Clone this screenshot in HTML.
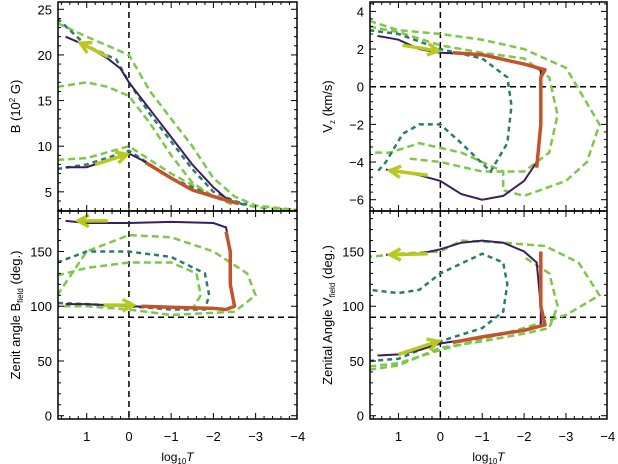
<!DOCTYPE html>
<html><head><meta charset="utf-8"><style>
html,body{margin:0;padding:0;background:#fff}
svg{display:block;font-family:"Liberation Sans",sans-serif}
</style></head><body>
<svg id="chart" width="618" height="464" viewBox="0 0 618 464" xmlns="http://www.w3.org/2000/svg"></svg>
<script>
// shared x-axis data
const xTicks=[1,0,-1,-2,-3,-4];
const xTickLabels=["1","0","\u22121","\u22122","\u22123","\u22124"];
// Panel B (top-left)
const bYTicks=[5,10,15,20,25];
const bSolid=[[[1.5,22],[1,21],[0.5,19.6],[0.2,18.5],[0,17],[-0.5,14],[-1,11],[-1.5,8],[-2,5.5],[-2.3,4.3],[-2.6,3.7]],
 [[1.5,7.7],[1,7.7],[0.5,8.5],[0,9.2],[-0.3,8.5],[-1,6.5],[-1.5,5.2],[-2,4.5],[-2.6,3.7]]];
const bRed=[[[-0.4,8.2],[-1,6.5],[-1.5,5.2],[-2,4.5],[-2.6,3.7]]];
const bTeal=[[[1.7,24],[1,21],[0.3,19.5],[0,17],[-0.5,13.5],[-1,10.5],[-1.5,7.5],[-2,5],[-2.5,4],[-2.8,3.6]],
 [[1.7,7.5],[1,8],[0,9.5],[-1,6.5],[-2,4.5],[-2.8,3.5]]];
const bGreen=[[[1.7,23.5],[1,22],[0,20],[-0.5,16],[-1,13],[-1.5,10],[-2,6.5],[-2.5,4.5],[-3,3.5],[-4,3]],
 [[1.7,16.5],[1,17],[0.5,16.5],[0,15.5],[-0.5,12.5],[-1,9],[-1.5,6],[-2,4.5],[-2.5,3.5]],
 [[1.7,8.5],[1,8.7],[0,10],[-1,7],[-2,4.5],[-3,3.3],[-4,3]]];
const bArrows=[[[0.5,19.8],[1.15,21.3]],[[0.8,8],[0.05,9.1]]];
// Panel Vz (top-right)
const vYTicks=[-6,-4,-2,0,2,4];
const vSolid=[[[1.5,2.7],[1,2.5],[0.5,2],[0,1.8],[-1,1.7],[-2,1.2],[-2.4,0.9],[-2.4,-2],[-2.3,-4],[-2,-5],[-1.5,-5.8],[-1,-6],[-0.5,-5.7],[0,-5],[0.5,-4.7],[1,-4.5],[1.3,-4.4]]];
const vRed=[[[-0.3,1.8],[-1,1.7],[-2,1.2],[-2.5,0.9],[-2.4,0.5],[-2.4,-2],[-2.3,-4.3]]];
const vTeal=[[[1.7,3],[1,2.8],[0,2],[-1,1.5],[-1.6,0.5],[-1.7,-1],[-1.6,-3],[-1.2,-4.5],[-0.5,-3],[0,-2],[0.5,-2],[0.9,-2.5],[1.3,-4],[1.5,-4.5]]];
const vGreen=[[[1.7,3.5],[1,3],[0,2.8],[-1,2.5],[-2,2],[-3,1],[-3.8,-2],[-3.5,-4],[-3,-5],[-2,-5.8],[-1.5,-5.5],[-1.5,-4.5],[-0.5,-3.5],[0.5,-3],[1.2,-3.5],[1.7,-3.5]],
 [[1.7,3.2],[1,2.9],[0,2.2],[-1,1.8],[-2,1.5],[-2.6,0.5],[-2.8,-1.5],[-2.6,-3.5],[-2,-4.5],[-1,-4.5],[0,-4],[0.8,-3.8]]];
const vArrows=[[[0.9,2.2],[0.05,1.9]],[[0.3,-4.7],[1.2,-4.45]]];
// Panel zenith B (bottom-left)
const aYTicks=[0,50,100,150];
const aSolid=[[[1.5,178],[1,176],[0,176],[-1,177],[-2,176],[-2.3,172],[-2.4,150],[-2.4,120],[-2.5,100],[-2.3,97],[-2,98],[-1,99],[0,100],[1,102],[1.5,102]]];
const aRed=[[[-2.3,168],[-2.4,150],[-2.4,120],[-2.5,100],[-2.3,97],[-2,98],[-1,99],[-0.3,100]]];
const aTeal=[[[1.7,140],[1,150],[0,150],[-1,145],[-1.8,130],[-1.9,110],[-1.8,97],[-1,97],[0,100],[1,102],[1.7,103]]];
const aGreen=[[[1.7,110],[1,150],[0,165],[-1,163],[-2,150],[-2.8,130],[-3,110],[-2.5,95],[-1,92],[0,97],[1,100],[1.7,100]],
 [[1.7,128],[1,135],[0,140],[-1,140],[-1.6,130],[-1.7,110],[-1.5,97]]];
const aArrows=[[[0.5,178],[1.2,178]],[[0.6,101],[-0.1,101]]];
// Panel zenith V (bottom-right)
const zYTicks=[0,50,100,150];
const zSolid=[[[1.5,55],[1,56],[0.5,60],[0,66],[-1,72],[-2,78],[-2.4,82],[-2.4,100],[-2.3,140],[-2,150],[-1.5,158],[-1,160],[-0.5,158],[0,152],[0.5,148],[1,147],[1.3,147]]];
const zRed=[[[-0.3,67],[-1,72],[-2,78],[-2.5,83],[-2.4,100],[-2.4,150]]];
const zTeal=[[[1.7,50],[1,52],[0,68],[-1,80],[-1.5,95],[-1.6,120],[-1.5,140],[-1,148],[0,130],[0.5,115],[1,112],[1.7,115]]];
const zGreen=[[[1.7,45],[1,48],[0,60],[-1,70],[-2,80],[-3,92],[-3.8,110],[-3.3,140],[-2.5,155],[-1.5,158],[-0.5,160],[0,150],[1,148],[1.7,145]],
 [[1.7,42],[1,46],[0,62],[-1,68],[-2,75],[-2.6,80],[-2.8,100],[-2.6,130],[-2,145]]];
const zArrows=[[[1,56],[0.05,68]],[[0.3,148],[1.2,147]]];

const NS="http://www.w3.org/2000/svg";
const svg=document.getElementById('chart');
function mk(tag,attrs,parent){const e=document.createElementNS(NS,tag);for(const k in attrs)e.setAttribute(k,attrs[k]);(parent||svg).appendChild(e);return e;}
let clipId=0;
function panel(o){
  const g=mk('g',{});
  
  
  const xs=v=>o.x0+(o.xmin-v)/(o.xmin-o.xmax)*(o.x1-o.x0);
  const ys=v=>o.y1-(v-o.ymin)/(o.ymax-o.ymin)*(o.y1-o.y0);
  const cid='c'+(clipId++);
  const cp=mk('clipPath',{id:cid},g);mk('rect',{x:o.x0,y:o.y0,width:o.x1-o.x0,height:o.y1-o.y0},cp);
  const dg=mk('g',{'clip-path':'url(#'+cid+')'},g);
  // reference dashed lines
  const vl=mk('line',{x1:xs(0),x2:xs(0),y1:o.y0,y2:o.y1,stroke:'#000','stroke-width':1.5,'stroke-dasharray':'6,4'},dg);
  
  
  if(o.href!==undefined){const hl=mk('line',{x1:o.x0,x2:o.x1,y1:ys(o.href),y2:ys(o.href),stroke:'#000','stroke-width':1.5,'stroke-dasharray':'6,4'},dg);
    
    }
  const path=(pts)=>pts.map((p,i)=>(i?'L':'M')+xs(p[0]).toFixed(1)+','+ys(p[1]).toFixed(1)).join('');
  o.green.forEach(s=>{const p=mk('path',{d:path(s),fill:'none',stroke:'#7dc84a','stroke-width':2.5,'stroke-dasharray':'7,4'},dg);
    
    });
  o.teal.forEach(s=>{const p=mk('path',{d:path(s),fill:'none',stroke:'#2a7d6c','stroke-width':2.5,'stroke-dasharray':'5,4'},dg);
    
    });
  o.solid.forEach(s=>{const p=mk('path',{d:path(s),fill:'none',stroke:'#3b1f5c','stroke-width':2},dg);
    
    });
  o.red.forEach(s=>{const p=mk('path',{d:path(s),fill:'none',stroke:'#c2542c','stroke-width':3.5,'stroke-linejoin':'round'},dg);
    
    });
  o.arrows.forEach(a=>{const X1=xs(a[0][0]),Y1=ys(a[0][1]),X2=xs(a[1][0]),Y2=ys(a[1][1]);
    const ang=Math.atan2(Y2-Y1,X2-X1),L=12,w=0.5;
    const ag=mk('g',{},dg);
    
    
    mk('line',{x1:X1,y1:Y1,x2:X2,y2:Y2,stroke:'#b9c81e','stroke-width':3.5},ag);
    mk('path',{d:`M${X2-L*Math.cos(ang-w)},${Y2-L*Math.sin(ang-w)}L${X2},${Y2}L${X2-L*Math.cos(ang+w)},${Y2-L*Math.sin(ang+w)}`,fill:'none',stroke:'#b9c81e','stroke-width':3.5},ag);});
  // frame
  mk('rect',{x:o.x0,y:o.y0,width:o.x1-o.x0,height:o.y1-o.y0,fill:'none',stroke:'#000','stroke-width':1.5},g);
  // x ticks
  for(let v=-4;v<=1.7;v+=0.2){const t=Math.round(v*10)/10;const X=xs(t);if(X<o.x0||X>o.x1)continue;
    const maj=Math.abs(t-Math.round(t))<1e-6;const len=maj?6:3;
    mk('line',{x1:X,x2:X,y1:o.y1,y2:o.y1-len,stroke:'#000'},g);mk('line',{x1:X,x2:X,y1:o.y0,y2:o.y0+len,stroke:'#000'},g);}
  if(o.xlabels){xTicks.forEach((t,i)=>{const tx=mk('text',{x:xs(t),y:o.y1+22,'font-size':13,'text-anchor':'middle'},g);tx.textContent=xTickLabels[i];
    
    });
    const xt=mk('text',{x:(o.x0+o.x1)/2,y:o.y1+42,'font-size':12,'text-anchor':'middle'},g);
    
    
    xt.innerHTML='log<tspan font-size="8" dy="3">10</tspan><tspan dy="-3" font-style="italic">T</tspan>';}
  // y ticks
  const step=o.ticks[1]-o.ticks[0],mn=step/5;
  for(let v=Math.ceil(o.ymin/mn)*mn;v<=o.ymax;v+=mn){const Y=ys(v);const maj=Math.abs(v/step-Math.round(v/step))<1e-6;const len=maj?6:3;
    mk('line',{x1:o.x0,x2:o.x0+len,y1:Y,y2:Y,stroke:'#000'},g);mk('line',{x1:o.x1,x2:o.x1-len,y1:Y,y2:Y,stroke:'#000'},g);}
  o.ticks.forEach(t=>{const tx=mk('text',{x:o.x0-6,y:ys(t)+5,'font-size':13,'text-anchor':'end'},g);tx.textContent=String(t).replace('-','\u2212');
    
    });
  const yt=mk('text',{x:0,y:0,'font-size':13,'text-anchor':'middle',transform:`translate(${o.x0-38},${(o.y0+o.y1)/2}) rotate(-90)`},g);
  
  
  yt.innerHTML=o.ytitle;
}
const common={xmin:1.68,xmax:-3.98};
panel(Object.assign({},common,{name:'panel-field-strength',x0:58,x1:297,y0:2,y1:211,ymin:2.9,ymax:25.8,ticks:bYTicks,solid:bSolid,red:bRed,teal:bTeal,green:bGreen,arrows:bArrows,ytitle:'B (10<tspan font-size="8" dy="-5">2</tspan><tspan dy="5"> G)</tspan>'}));
panel(Object.assign({},common,{name:'panel-zenith-angle-b',x0:58,x1:297,y0:211,y1:419,ymin:-3,ymax:187,href:90,ticks:aYTicks,solid:aSolid,red:aRed,teal:aTeal,green:aGreen,arrows:aArrows,xlabels:true,ytitle:'Zenit angle B<tspan font-size="8" dy="3">field</tspan><tspan dy="-3"> (deg.)</tspan>'}));
panel(Object.assign({},common,{name:'panel-vertical-velocity',x0:370,x1:607,y0:2,y1:211,ymin:-6.6,ymax:4.5,href:0,ticks:vYTicks,solid:vSolid,red:vRed,teal:vTeal,green:vGreen,arrows:vArrows,ytitle:'V<tspan font-size="8" dy="3">z</tspan><tspan dy="-3"> (km/s)</tspan>'}));
panel(Object.assign({},common,{name:'panel-zenith-angle-v',x0:370,x1:607,y0:211,y1:419,ymin:-3,ymax:187,href:90,ticks:zYTicks,solid:zSolid,red:zRed,teal:zTeal,green:zGreen,arrows:zArrows,xlabels:true,ytitle:'Zenital Angle V<tspan font-size="8" dy="3">field</tspan><tspan dy="-3"> (deg.)</tspan>'}));
</script>
</body></html>
